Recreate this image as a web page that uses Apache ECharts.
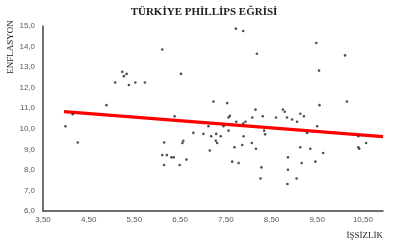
<!DOCTYPE html>
<html>
<head>
<meta charset="utf-8">
<script src="https://cdn.jsdelivr.net/npm/echarts@6/dist/echarts.min.js"></script>
<style>html,body{margin:0;padding:0;background:#fff}#c{width:400px;height:245px}</style>
</head>
<body>
<div id="c"></div>
<script>
var titleText = 'TÜRKİYE PHİLLİPS EĞRİSİ';
var yName = 'ENFLASYON';
var xName = 'İŞSİZLİK';
var unemployment = [3.99,4.15,4.26,4.89,5.08,5.235,5.27,5.33,5.38,5.52,5.73,6.11,6.15,6.11,6.21,6.31,6.36,6.15,6.49,6.38,6.52,6.55,6.57,6.64,6.79,7.01,7.12,7.15,7.18,7.23,7.28,7.29,7.31,7.39,7.45,7.53,7.56,7.59,7.56,7.64,7.69,7.72,7.73,7.78,7.86,7.88,7.88,7.89,7.93,8.07,8.08,8.15,8.16,8.18,8.26,8.28,8.31,8.34,8.36,8.60,8.75,8.79,8.84,8.85,8.86,8.86,8.95,9.05,9.06,9.13,9.13,9.16,9.21,9.28,9.35,9.46,9.48,9.50,9.54,9.55,9.63,10.11,10.15,10.40,10.40,10.42,10.57];
var inflation = [10.12,10.71,9.33,11.15,12.25,12.77,12.56,12.67,12.13,12.25,12.25,13.86,9.33,8.72,8.72,8.61,8.61,8.24,8.24,10.61,12.67,9.31,9.42,8.50,9.80,9.75,10.12,8.94,9.64,11.33,9.42,9.75,9.31,9.64,10.12,11.25,10.55,10.63,9.91,8.40,9.10,14.87,10.34,8.33,9.21,10.26,14.76,9.64,10.34,9.31,10.55,10.93,9.03,13.65,7.58,8.12,10.61,9.91,9.73,10.55,10.94,10.83,10.55,7.31,8.61,8.01,10.45,7.58,10.34,10.73,9.10,8.33,10.61,9.80,9.03,8.40,14.17,10.12,12.83,11.15,8.82,13.57,11.33,9.64,9.10,9.03,9.31];
var trendX = [3.96, 10.94];
var trendY = [10.83, 9.62];

var points = unemployment.map(function (x, i) { return [x, inflation[i]]; });
var trend = trendX.map(function (x, i) { return [x, trendY[i]]; });

var chart = echarts.init(document.getElementById('c'), null, {renderer: 'canvas'});
chart.setOption({
  animation: false,
  backgroundColor: '#ffffff',
  title: {
    text: titleText,
    left: 199, top: 2, textAlign: 'center',
    textStyle: {fontFamily: 'Liberation Serif', fontWeight: 'bold', fontSize: 11, color: '#222'}
  },
  grid: {left: 43, right: 17, top: 26, bottom: 34},
  xAxis: {
    type: 'value', min: 3.5, max: 10.94, interval: 1,
    axisLine: {show: true, lineStyle: {color: '#404040', width: 1.5}},
    axisTick: {show: false},
    splitLine: {show: false},
    axisLabel: {
      showMaxLabel: false, margin: 5,
      fontFamily: 'Liberation Sans', fontSize: 8, color: '#595959',
      formatter: function (v) { return v.toFixed(2).replace('.', ','); }
    }
  },
  yAxis: {
    type: 'value', min: 6, max: 15, interval: 1,
    axisLine: {show: true, lineStyle: {color: '#404040', width: 1.5}},
    axisTick: {show: false},
    splitLine: {show: false},
    axisLabel: {
      margin: 8,
      fontFamily: 'Liberation Sans', fontSize: 8, color: '#595959',
      formatter: function (v) { return v.toFixed(1).replace('.', ','); }
    }
  },
  graphic: [
    {type: 'text', x: 11, y: 47, rotation: Math.PI / 2,
     style: {text: yName, fontFamily: 'Liberation Serif', fontSize: 9, fill: '#222', align: 'center', verticalAlign: 'middle'}},
    {type: 'text', x: 383, y: 236,
     style: {text: xName, fontFamily: 'Liberation Serif', fontSize: 9, fill: '#222', align: 'right', verticalAlign: 'middle'}}
  ],
  series: [
    {
      type: 'scatter', data: points, symbol: 'circle', symbolSize: 2.6,
      itemStyle: {color: '#1c2633'}, z: 3
    },
    {
      type: 'line', data: trend, symbol: 'none',
      lineStyle: {color: '#ff0000', width: 3.3}, z: 2
    }
  ]
});
</script>
</body>
</html>
